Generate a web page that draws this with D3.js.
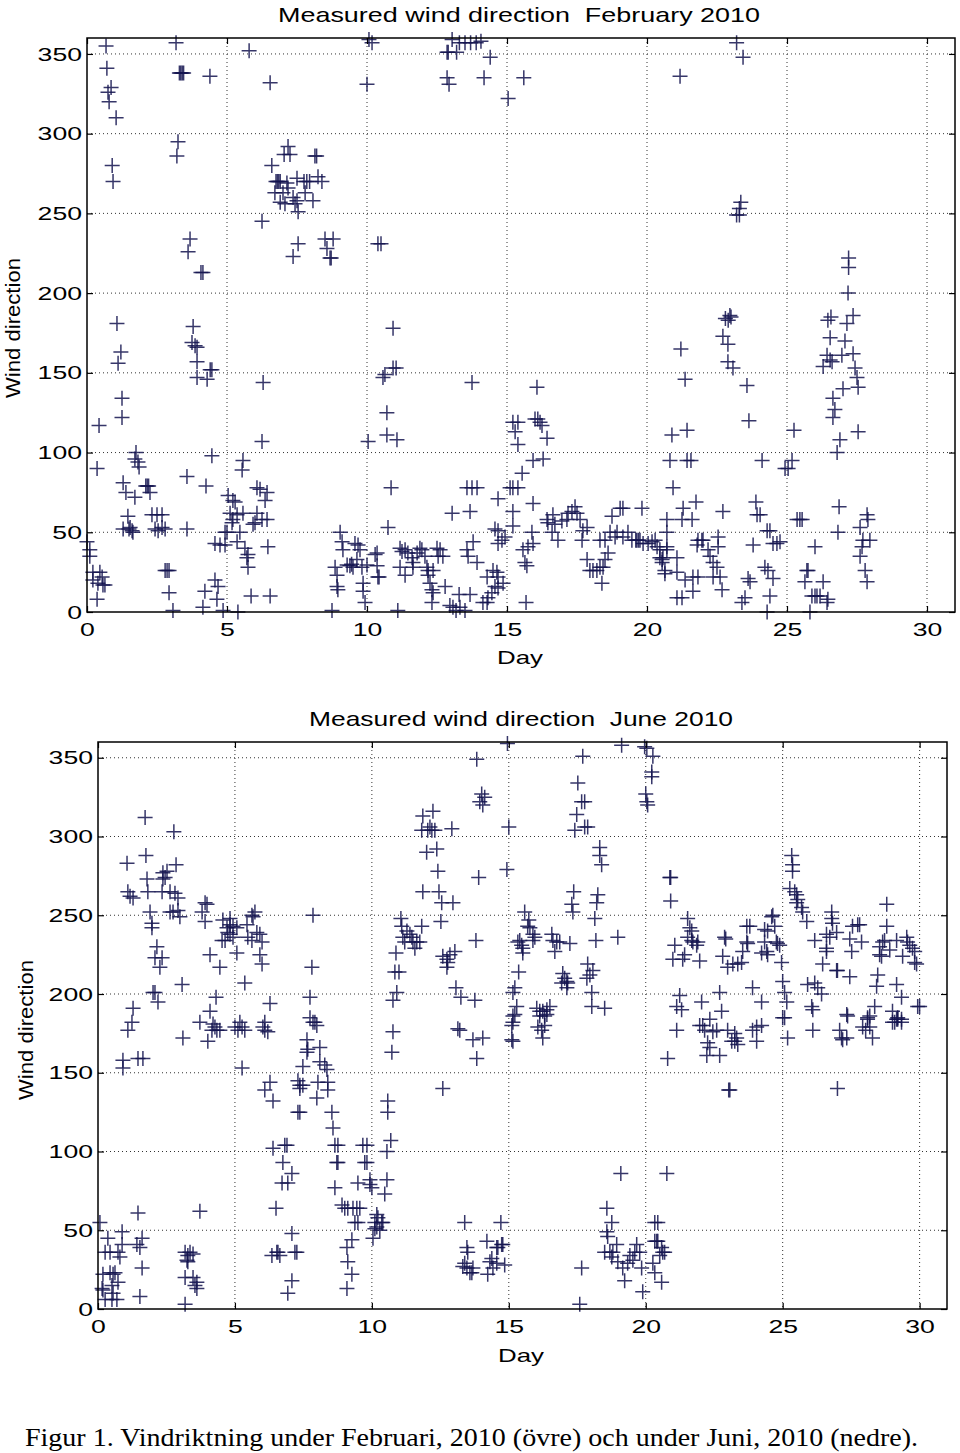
<!DOCTYPE html>
<html><head><meta charset="utf-8">
<script src="https://cdn.jsdelivr.net/npm/d3@7"></script>
<style>body{margin:0;background:#fff}</style>
</head><body>
<svg id="c" width="960" height="1453" xmlns="http://www.w3.org/2000/svg"></svg>
<script>
// ---------- tick labels ----------
const xTicks = [0, 5, 10, 15, 20, 25, 30];
const yTicks = [0, 50, 100, 150, 200, 250, 300, 350];

// ---------- February 2010: [day, wind direction (deg)] ----------
const febA = [[0.68,355],[0.71,341],[0.86,329],[0.75,326],[0.79,320],[1.04,310],[0.9,280],[0.93,270],[1.07,181],[1.21,163],[1.11,156],[1.25,134],[1.25,122],[0.43,117],[0.36,90],
[1.75,100],[1.71,96],[1.82,94],[1.86,91],[1.29,81],[1.39,75],[1.71,72],[2.1,79],[2.15,79],[2.2,79],[2.25,75],
[1.46,60],[1.29,52],[1.54,53],[1.61,51],[1.64,50],[1.5,52],
[2.32,61],[2.5,61],[2.68,61],[2.43,52],[2.54,51],[2.68,53],[2.79,52],[3.57,52],
[0.0,44],[0.1,39],[0.1,35],[0.21,25],[0.46,25],[0.54,22],[0.21,20],[0.39,18],[0.57,17],[0.64,17],[0.36,8],
[2.79,26],[2.86,26],[2.93,26],[2.93,12],[3.07,1],
[3.18,357],[3.3,338],[3.35,338],[3.4,338],[3.45,338],[3.25,295],[3.21,286],[3.68,234],[3.61,226],[4.07,213],[4.14,213],
[3.75,169],[3.86,167],[3.93,166],[3.79,179],[3.93,157],[4.4,152],[4.46,152],[3.93,147],[4.29,146],[4.39,336],
[4.46,98],[3.57,85],[4.25,79],
[4.57,43],[4.75,42],[4.93,42],[4.93,50],[4.14,3],[4.21,13],[4.57,20],[4.68,16],[4.64,8],[4.86,1]];
const febB = [[5.0,50],[5.46,50],[5.39,0],[5.04,73],[5.21,70],[5.29,69],[5.57,95],[5.54,89],[5.11,62],[5.36,61],[5.57,62],[5.21,58],[5.18,56],
[5.36,44],[5.64,40],[5.75,36],[5.71,34],[5.75,28],[5.86,10],[6.54,10],
[6.07,78],[6.18,77],[6.36,70],[6.43,75],[6.07,62],[6.0,56],[5.93,55],[6.25,58],[6.43,58],[6.46,41],
[5.79,352],[6.54,332],[6.29,144],[6.25,107],[6.25,245],
[7.18,292],[7.04,287],[7.25,287],[6.6,280],[8.14,286],[8.2,286],[6.75,270],[6.8,270],[6.85,270],[6.9,270],[7.14,269],[7.5,272],[7.75,270],[7.85,270],[7.95,270],[8.25,273],[8.39,270],[6.71,263],[7.0,263],[7.18,266],[7.36,260],[7.5,258],[6.9,257],[7.07,256],[7.43,256],[7.79,263],[8.07,258],[7.54,251],[7.54,231],[7.36,223],
[8.5,234],[8.79,234],[8.57,228],[8.68,222],[8.72,222],
[8.75,1],[9.04,50],[9.11,44],[9.14,39],[9.57,43],[9.68,42],[9.75,39],[8.86,28],[8.93,23],[9.29,29.5],[9.39,29],[9.45,30],[9.5,28],[9.64,33],[9.82,28],[8.93,16],[8.96,14],[9.86,18],[9.86,13],[9.93,6],[10.0,29.5]];
const febC = [[10.07,359],[10.18,357],[10.0,331],[10.39,231],[10.5,231],[10.04,107],[10.93,178],
[10.29,36],[10.36,29],[10.39,22],[10.36,37],[10.43,22],
[10.57,147],[10.64,149],[10.93,153],[11.04,153],[10.71,125],[10.71,111],[11.07,108],[10.86,78],[10.75,53],
[11.18,40],[11.25,38],[11.36,39],[11.46,37],[11.36,23],[11.61,34],[11.64,31],[11.64,28],[11.79,37],[11.89,40],[11.96,39],[12.07,35],[12.14,28],[12.18,26],[12.36,26],[11.18,28],[11.1,1],
[12.5,40],[12.61,39],[12.54,35],[12.71,35],[12.25,18],[12.32,14],[12.36,12],[12.32,6],[12.79,16],[12.18,23],
[12.96,4],[13.07,3],[13.18,1],[13.32,3],[13.5,1],[13.29,11],[13.68,11],
[13.57,39],[13.61,35],[13.79,44],[13.93,31],[13.04,62],[13.68,63],[13.57,78],[13.75,78],[13.93,78],[13.75,144],
[14.14,6],[14.29,6],[14.32,9],[14.46,12],[14.57,16],[14.68,15],[14.86,18],[14.29,22],[14.5,26],[14.64,25],[14.68,22],
[14.57,52],[14.68,51],[14.93,47],[14.82,45],[14.68,43],[14.68,71],
[13.04,359],[12.86,351],[12.9,351],[13.2,351],[13.3,357],[13.5,357],[13.7,357],[13.9,357],[14.07,358],[14.4,348],[12.86,335],[12.93,331],[14.18,335]];
const febD = [[15.04,322],[15.6,335],
[15.21,119],[15.39,119],[15.29,113],[15.39,105],[16.0,121],[16.1,121],[16.18,119],[16.25,117],[16.43,109],[15.93,95],[16.29,96],[15.54,87],[16.07,141],
[15.11,78],[15.21,78],[15.39,78],[15.21,63],[15.93,68],[15.21,54],[15.89,50],
[15.57,39],[15.75,41],[15.93,43],[15.64,31],[15.71,29],[15.68,6],
[16.43,58],[16.46,56],[16.61,50],[16.71,55],[16.82,45],[16.96,57],[17.14,58],[17.18,62],[17.32,63],[17.43,66],[17.5,62],[17.61,58],[17.71,51],[17.86,53],[17.68,45],[16.64,61],
[17.86,33],[17.96,26],[18.07,26],[18.21,26],[18.32,28],[18.43,28],[18.5,33],[18.61,37],[18.39,18],
[18.75,60],[19.04,65],[19.14,65],[19.82,65],
[18.32,45],[18.5,45],[18.68,50],[18.93,50],[18.86,47],[19.14,47],[19.32,50],[19.46,45],[19.64,45],[19.75,45],[19.86,43],[19.6,45],[19.7,45]];
const febE = [[20.04,43],[20.18,44],[20.29,45],[20.36,41],[20.46,39],[20.46,34],[20.54,31],[20.57,34],[20.64,24],[20.71,58],[20.71,50],[20.71,41],[20.71,39],[20.54,33],[20.64,26],[21.07,25],[21.07,34],
[20.89,111],[21.43,114],[20.82,95],[21.43,95],[21.57,95],[20.93,78],[21.75,69],[21.29,65],[21.25,58],[21.61,58],
[21.18,336],[21.21,165],[21.36,146],
[21.82,45],[21.96,45],[22.0,45],[21.79,42],[22.18,39],[22.25,35],[22.36,31],[22.5,28],[22.54,47],[22.54,41],
[21.36,20],[21.64,22],[21.82,22],[22.36,22],[22.61,22],[21.64,13],[21.07,9],[21.25,9],[22.68,14],[22.71,63],
[22.71,173],[22.89,168],[22.89,157],[23.07,153],[22.8,184],[22.9,183],[22.96,186],[23.0,185],
[23.2,357],[23.43,348],[23.2,249],[23.3,249],[23.3,253],[23.35,257],[23.57,142],[23.64,120],
[23.79,42],[23.89,69],[23.93,61],[24.04,61],[24.29,51],[24.39,51],[24.5,43],[24.64,43],[24.75,44],
[23.61,21],[23.68,19],[23.5,9],[23.39,6],[24.39,10],[24.5,21],[24.21,28],[24.32,26],[24.29,0],[24.11,95],
[24.93,90],[25.04,90],[25.18,95],[25.25,114],
[25.36,58],[25.46,58],[25.54,58],[25.82,0],[26.0,41],[25.71,26],[25.75,26],[25.64,19],[26.29,19],[26.43,6],[26.46,8],[25.89,10],[26.0,10],[26.07,10],[26.18,10],
[26.86,66],[26.82,50],[27.86,61],[27.89,58],[27.61,53],[27.71,45],[27.96,45],[27.68,41],[27.61,35],[27.79,26],[27.86,19],
[26.54,172],[27.07,170],[26.43,161],[26.54,158],[26.29,154],[26.61,157],[26.96,161],[27.36,162],[27.43,153],[27.5,147],[27.54,141],[27.0,140],[26.64,134],[26.71,127],[26.64,122],[26.89,108],[27.54,113],[26.79,100],[27.14,181],[26.46,183],[26.57,185],[27.36,186],
[27.2,222],[27.2,216],[27.18,200]];

// ---------- June 2010: [day, wind direction (deg)] ----------
const junA = [[1.72,312],[2.77,303],[1.06,283],[1.75,288],[2.85,282],[2.37,277],[2.52,278],[2.37,273],[2.45,274],[1.79,273],[1.09,265],[1.17,262],[1.28,261],[1.82,265],[2.34,265],[2.63,265],[2.81,264],[2.92,261],
[1.9,252],[1.97,245],[1.97,242],[2.63,252],[2.74,252],[2.92,253],[2.99,249],[3.8,252],[3.91,258],[3.98,257],[3.91,246],
[4.56,247],[4.71,242],[4.82,244],[4.93,243],[4.53,234],[4.64,234],[4.74,239],[4.82,238],[4.93,236],[4.82,248],
[2.15,230],[2.08,223],[2.34,223],[2.26,217],[3.07,206],[4.09,225],[4.45,217],
[2.08,201],[2.19,195],[2.01,201],[4.31,198],[4.09,189],[1.28,191],
[1.24,182],[1.09,177],[3.72,182],[4.2,181],[4.27,179],[4.34,177],[4.16,177],[4.45,177],[3.1,172],[4.01,170],
[0.91,158],[0.91,153],[1.46,159],[1.64,159],
[0.07,55],[0.88,49],[0.36,45],[0.88,41],[0.44,36],[0.73,36],[1.42,41],[1.53,39],[1.61,45],[0.26,36],[0.8,33],[1.46,61],[1.61,26],[1.53,8],
[0.18,22],[0.44,23],[0.55,22],[0.62,23],[0.15,13],[0.18,12],[0.51,15],[0.73,17],[0.26,6],[0.51,6],[0.69,6],[0.55,10],
[3.18,36],[3.28,34],[3.36,36],[3.25,31],[3.28,30],[3.47,35],[3.18,20],[3.47,20],[3.61,17],[3.61,13],[3.54,15],[3.18,3],[3.72,62]];
const junB = [[5.07,242],[5.44,244],[5.62,250],[5.66,249],[5.47,236],[5.62,234],[5.8,239],[5.91,238],[5.99,233],[5.73,252],[5.07,226],[5.91,225],[5.99,219],[5.36,207],[6.28,194],
[5.0,179],[5.11,177],[5.26,179],[5.36,177],[5.18,182],[6.02,179],[6.09,177],[6.2,176],[6.09,182],[5.26,153],
[7.85,250],[7.81,217],[7.74,198],[7.74,185],[7.85,182],[7.92,182],[7.99,180],
[7.63,171],[7.66,165],[7.63,163],[7.48,154],[8.1,166],[8.1,157],[8.28,155],[8.36,152],
[6.28,144],[6.09,139],[6.39,132],[7.3,145],[7.37,142],[7.48,142],[7.37,140],[8.03,144],[8.39,144],[8.39,139],[7.99,134],[7.3,125],[7.37,125],[8.54,125],[8.58,115],
[6.39,102],[6.82,104],[6.9,104],[8.65,104],[8.76,104],[9.67,104],[9.82,104],[6.75,93],[8.72,93],[8.76,93],[9.74,93],[9.82,93],[7.08,86],[6.72,80],[6.93,80],[8.65,77],[9.49,80],[9.93,82],[10.0,77],[9.93,79],
[6.5,64],[8.91,66],[9.01,64],[9.12,64],[9.31,64],[9.45,64],[9.56,64],[9.38,55],[9.49,55],
[9.27,44],[9.09,39],[9.12,30],[9.27,22],[9.09,13],[7.08,48],
[6.57,36],[6.53,36],[7.26,36],[7.19,36],[7.08,18],[6.93,10],[6.64,34],[6.35,34]];
const junC = [[10.18,60],[10.11,55],[10.11,51],[10.04,45],[10.22,58],[10.36,55],[10.4,55],[10.18,52],[10.29,50],
[10.77,176],[10.73,163],[12.59,140],[10.58,132],[10.58,125],[10.69,107],[10.55,100],[10.55,82],[10.47,73],
[10.88,226],[10.84,214],[10.99,214],[10.91,201],[10.77,196],
[11.06,248],[11.09,243],[11.82,243],[11.28,240],[11.39,238],[11.46,236],[11.5,233],[11.64,233],[11.75,233],[11.13,236],[11.2,233],[11.57,229],
[12.52,246],[13.8,234],[12.59,224],[12.74,222],[12.77,220],[12.85,225],[13.03,227],[12.74,217],[13.07,204],[13.25,198],[13.76,196],
[11.86,265],[12.45,265],[12.55,258],[12.96,258],[12.41,278],[12.0,290],[12.37,292],
[12.04,304],[12.12,306],[12.19,304],[12.3,304],[11.82,304],[12.92,305],[12.23,316],[11.86,313],
[13.83,349],[14.01,327],[14.12,325],[14.05,320],[13.94,322],[13.9,274],[14.93,279],
[13.14,178],[13.21,177],[13.69,171],[14.05,172],[13.83,159],
[13.39,55],[14.71,55],[13.47,39],[13.5,36],[13.39,29],[13.47,26],[13.58,23],[13.65,23],[13.32,27],[13.69,26],
[14.2,43],[14.31,30],[14.38,32],[14.42,26],[14.23,22],[14.56,39],[14.6,39],[14.74,41],[14.78,41],[14.85,28],[14.56,29]];
const junD = [[14.95,359],[15.0,306],
[15.58,252],[15.73,247],[15.69,243],[15.77,242],[15.88,238],[15.95,236],[15.88,234],[15.4,234],[15.47,231],[15.51,229],[15.51,226],[15.33,233],
[16.57,238],[16.61,234],[16.75,233],[16.86,233],[16.68,227],[17.23,232],
[15.36,214],[15.22,204],[15.15,201],[15.29,192],[15.22,187],[15.15,182],[15.15,186],[15.11,180],[15.11,171],[15.15,170],
[16.02,191],[16.13,189],[16.24,189],[16.39,190],[16.5,192],[16.31,186],[16.06,179],[16.2,177],[16.24,172],[16.31,180],[16.39,187],[16.13,186],
[16.97,213],[17.04,210],[17.12,208],[17.15,207],[16.93,207],[17.12,204],
[17.37,265],[17.3,257],[17.34,252],[18.14,248],[18.18,234],[18.98,236],
[17.88,219],[18.07,215],[17.96,212],[17.85,210],[18.03,201],[18.03,192],[18.5,191],[18.25,263],[18.21,258],
[18.32,293],[18.32,288],[18.39,282],[17.52,334],[17.66,322],[17.77,322],[17.48,314],[17.41,304],[17.77,306],[17.88,306],[17.7,351],
[19.12,358],[19.96,357],[20.04,356],[20.26,351],[20.22,341],[20.22,338],[20.0,327],[20.04,322],[20.07,320],
[17.66,26],[17.59,3],[19.09,86],[18.58,64],[18.76,55],[18.58,49],[18.61,46],
[18.5,36],[18.69,36],[18.8,36],[18.76,33],[18.94,41],[18.98,30],[19.16,26],[19.23,18],[19.42,34],[19.53,31],[19.67,41],[19.6,36],[19.78,36],[19.85,26],[19.89,11],[19.34,29]];
const junE = [[20.33,55],[20.33,43],[20.26,29],[20.33,23],[20.4,43],[20.44,43],[20.58,39],[20.62,36],[20.69,36],[20.51,34],[20.58,17],[20.44,55],[20.77,86],
[20.88,274],[20.91,274],[20.91,259],[20.8,159],
[25.33,288],[25.36,282],[25.36,278],[25.26,267],[25.44,265],[25.51,263],[25.55,260],[25.51,258],[25.69,255],[25.73,252],[25.88,246],
[28.8,257],
[26.79,252],[26.79,248],[26.82,245],[26.97,239],[26.6,238],[26.6,227],[26.6,229],[26.17,234],[26.72,236],[26.46,219],[26.97,215],[27.45,211],[28.47,212],[28.43,205],[29.16,206],[29.34,198],[29.93,192],
[27.55,243],[27.74,244],[27.81,244],[27.88,233],[27.45,235],[27.52,227],[28.8,243],
[28.65,233],[28.72,234],[28.54,230],[28.54,225],[28.61,224],[28.91,228],[29.16,234],[29.53,236],[29.56,233],[29.64,231],[29.74,229],[29.82,227],[29.38,224],[29.82,220],[29.89,219],[30.0,192],
[21.53,248],[21.61,242],[21.53,236],[21.68,234],[21.72,233],[21.86,231],[21.9,233],[21.06,231],[21.42,225],[21.35,222],[20.99,222],[21.97,221],[21.68,240],
[22.88,236],[22.92,235],[22.81,224],[22.99,217],[23.18,219],[23.36,219],[23.5,220],
[23.69,243],[23.8,243],[23.69,233],[23.72,232],[23.54,227],[24.34,241],[24.45,240],[24.6,249],[24.64,250],[24.71,243],[24.34,233],[24.42,227],[24.45,225],[24.23,226],[24.77,233],[24.81,232],[24.89,231],[24.96,220],
[25.0,208],[25.07,201],[25.15,195],[25.0,185],
[21.24,199],[21.13,192],[21.31,190],[22.04,195],[22.7,201],[22.77,189],[23.9,204],[24.23,195],[25.91,206],[26.17,207],[26.28,204],[26.42,200],[27.0,215],[26.06,192],[26.1,190],[27.34,187],[28.1,185],[28.36,192],[29.16,184],[29.2,185],[29.34,184],[29.01,189],
[22.34,184],[21.97,180],[22.15,177],[22.45,176],[22.59,177],[22.26,169],[22.34,166],[22.23,161],[22.7,161],[22.08,180],[21.13,177],
[22.99,177],[23.25,175],[23.32,172],[23.14,170],[23.36,168],[23.25,170],[23.9,177],[24.05,179],[24.23,180],[24.05,170],[23.07,139],[23.03,139],
[25.07,185],[25.18,172],[26.1,177],[27.08,177],[27.15,172],[27.19,171],[27.34,172],[27.0,140],[27.37,186],
[27.92,179],[28.03,177],[28.18,179],[28.28,172],[28.1,184],[28.18,186],[29.09,182],[29.2,184],[29.34,182],[29.01,182]];

const titles = ["Measured wind direction  February 2010", "Measured wind direction  June 2010"];
const xLabel = "Day", yLabel = "Wind direction";
const caption = "Figur 1. Vindriktning under Februari, 2010 (övre) och under Juni, 2010 (nedre).";

// ---------- layout ----------
const layout = [
  {data: [].concat(febA, febB, febC, febD, febE), title: titles[0], L: 87, R: 955, T: 38, B: 612,
   titleY: 22, titleX: 519, titleW: 482, dayY: 664, dayX: 520, ylabX: 20, ylabY: 328},
  {data: [].concat(junA, junB, junC, junD, junE), title: titles[1], L: 98, R: 947, T: 742, B: 1309,
   titleY: 726, titleX: 521, titleW: 424, dayY: 1362, dayX: 521, ylabX: 33, ylabY: 1030}
];

const svg = d3.select("#c");
svg.append("rect").attr("width", 960).attr("height", 1453).attr("fill", "#fff");
const FONT = "'Liberation Sans', Arial, Helvetica, sans-serif";
const SX = 1.4;

layout.forEach(cfg => {
  const x = d3.scaleLinear().domain([0, 31]).range([cfg.L, cfg.R]);
  const y = d3.scaleLinear().domain([0, 360]).range([cfg.B, cfg.T]);
  const g = svg.append("g");

  // grid
  g.selectAll("line.gx").data(xTicks.filter(d => d > 0)).join("line")
    .attr("x1", d => x(d)).attr("x2", d => x(d)).attr("y1", cfg.T).attr("y2", cfg.B)
    .attr("stroke", "#333").attr("stroke-width", 1).attr("stroke-dasharray", "1,3");
  g.selectAll("line.gy").data(yTicks.filter(d => d > 0)).join("line")
    .attr("y1", d => y(d)).attr("y2", d => y(d)).attr("x1", cfg.L).attr("x2", cfg.R)
    .attr("stroke", "#333").attr("stroke-width", 1).attr("stroke-dasharray", "1,3");

  // points
  g.append("g").selectAll("path").data(cfg.data).join("path")
    .attr("d", "M-7.5,0H7.5M0,-7.5V7.5")
    .attr("transform", d => `translate(${x(d[0])},${y(d[1])})`)
    .attr("fill", "none").attr("stroke", "#13134f").attr("stroke-opacity", 0.85)
    .attr("stroke-width", 1.5);

  // axes
  const styleAxis = sel => {
    sel.select(".domain").remove();
    sel.selectAll("line").attr("stroke", "#000").attr("stroke-width", 1.2);
    sel.selectAll("text").attr("font-family", FONT).attr("font-size", 19).attr("fill", "#000")
      .attr("transform", `scale(${SX},1)`);
  };
  g.append("g").attr("transform", `translate(0,${cfg.B})`)
    .call(d3.axisBottom(x).tickValues(xTicks).tickSizeInner(-6).tickSizeOuter(0).tickPadding(11))
    .call(styleAxis);
  g.append("g").attr("transform", `translate(${cfg.L},0)`)
    .call(d3.axisLeft(y).tickValues(yTicks).tickSizeInner(-6).tickSizeOuter(0).tickPadding(3.6))
    .call(styleAxis);
  g.append("g").attr("transform", `translate(0,${cfg.T})`)
    .call(d3.axisTop(x).tickValues(xTicks).tickSizeInner(-6).tickSizeOuter(0).tickFormat(""))
    .call(styleAxis);
  g.append("g").attr("transform", `translate(${cfg.R},0)`)
    .call(d3.axisRight(y).tickValues(yTicks).tickSizeInner(-6).tickSizeOuter(0).tickFormat(""))
    .call(styleAxis);

  // frame
  g.append("rect").attr("x", cfg.L).attr("y", cfg.T).attr("width", cfg.R - cfg.L).attr("height", cfg.B - cfg.T)
    .attr("fill", "none").attr("stroke", "#000").attr("stroke-width", 1.5);

  // title
  g.append("text").attr("x", cfg.titleX).attr("y", cfg.titleY).attr("text-anchor", "middle")
    .attr("font-family", FONT).attr("font-size", 21).attr("fill", "#000")
    .attr("style", "white-space:pre")
    .attr("textLength", cfg.titleW).attr("lengthAdjust", "spacingAndGlyphs")
    .text(cfg.title);
  // x label
  g.append("text").attr("x", cfg.dayX).attr("y", cfg.dayY).attr("text-anchor", "middle")
    .attr("font-family", FONT).attr("font-size", 19).attr("fill", "#000")
    .attr("textLength", 46).attr("lengthAdjust", "spacingAndGlyphs")
    .text(xLabel);
  // y label
  g.append("text").attr("transform", `translate(${cfg.ylabX},${cfg.ylabY}) rotate(-90)`)
    .attr("text-anchor", "middle")
    .attr("font-family", FONT).attr("font-size", 20).attr("fill", "#000")
    .attr("textLength", 140).attr("lengthAdjust", "spacingAndGlyphs")
    .text(yLabel);
});

// caption
svg.append("text").attr("x", 25).attr("y", 1446)
  .attr("font-family", "'Liberation Serif', 'Times New Roman', serif").attr("font-size", 26).attr("fill", "#000")
  .attr("textLength", 893).attr("lengthAdjust", "spacingAndGlyphs")
  .text(caption);
</script>
</body></html>
